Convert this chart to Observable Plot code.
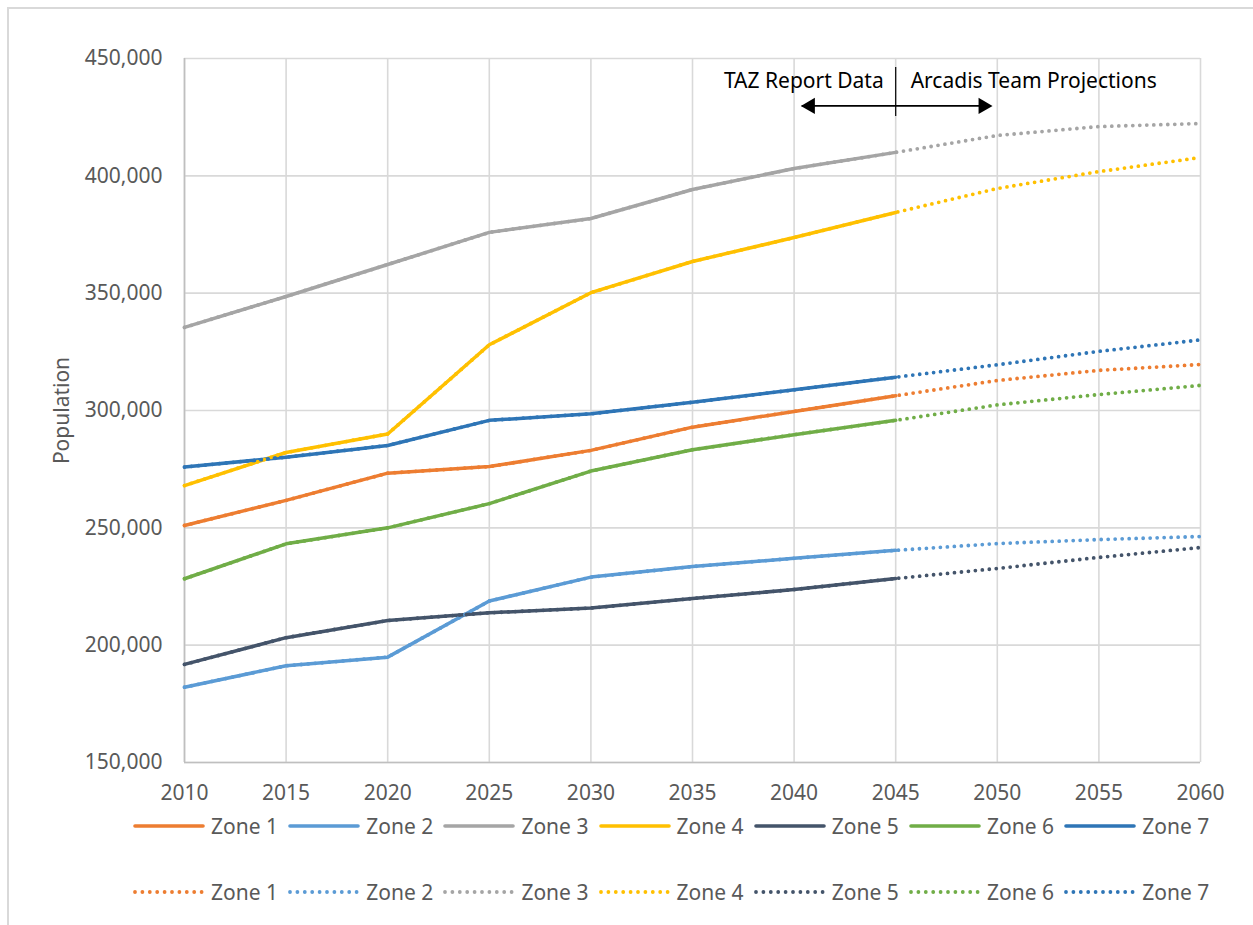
<!DOCTYPE html>
<html>
<head>
<meta charset="utf-8">
<script src="https://cdn.jsdelivr.net/npm/d3@7"></script>
<script src="https://cdn.jsdelivr.net/npm/@observablehq/plot@0.6"></script>
<style>
  html, body { margin: 0; padding: 0; background: #fff; }
  body { width: 1253px; height: 925px; position: relative; overflow: hidden; font-family: "Noto Sans", sans-serif; }
  #frame { position: absolute; left: 7px; top: 7px; width: 1260px; height: 930px; border-top: 2px solid #d9d9d9; border-left: 2px solid #d9d9d9; box-sizing: border-box; }
  #chart { position: absolute; left: 0; top: 0; }
  .legrow { position: absolute; left: 0; height: 30px; width: 1253px; }
  .item { position: absolute; top: 0; height: 30px; display: flex; align-items: center; color: #595959; font-size: 21px; white-space: nowrap; }
  .item svg { margin-right: 6px; }
</style>
</head>
<body>
<div id="frame"></div>
<div id="chart"></div>
<div id="legend"></div>
<script>
const years = [2010, 2015, 2020, 2025, 2030, 2035, 2040, 2045, 2050, 2055, 2060];
const lastReportYear = 2045;
const zones = ["Zone 1", "Zone 2", "Zone 3", "Zone 4", "Zone 5", "Zone 6", "Zone 7"];
const colors = ["#ED7D31", "#5B9BD5", "#A5A5A5", "#FFC000", "#44546A", "#70AD47", "#2E75B6"];

const zone1 = [251000, 261700, 273300, 276100, 283000, 292900, 299600, 306300, 312800, 317100, 319600];
const zone2 = [182100, 191200, 194900, 218800, 229000, 233500, 237000, 240400, 243300, 245000, 246300];
const zone3 = [335400, 348600, 362200, 375900, 381800, 394200, 403100, 410000, 417200, 421000, 422300];
const zone4 = [268000, 282100, 290000, 328000, 350200, 363500, 373700, 384400, 394600, 401800, 407800];
const zone5 = [191800, 203200, 210500, 213800, 215800, 219900, 223700, 228400, 232700, 237400, 241600];
const zone6 = [228300, 243200, 250000, 260300, 274200, 283300, 289700, 295800, 302400, 306800, 310700];
const zone7 = [275900, 280100, 285100, 295800, 298600, 303500, 308800, 314200, 319500, 325200, 330100];

const yTicks = [150000, 200000, 250000, 300000, 350000, 400000, 450000];

const labelLeft = "TAZ Report Data";
const labelRight = "Arcadis Team Projections";
const annoTextY = 440500;
const annoArrowY = 429800;
const annoArrowFrom = 2040.4;
const annoArrowTo = 2049.7;
const annoDividerTop = 446200;
const annoDividerBottom = 425300;

const series = [zone1, zone2, zone3, zone4, zone5, zone6, zone7];
const rows = [];
series.forEach((vals, i) => vals.forEach((v, j) => rows.push({zone: zones[i], year: years[j], value: v})));
const solidRows = rows.filter(d => d.year <= lastReportYear);
const dottedRows = rows;

const plot = Plot.plot({
  width: 1253,
  height: 830,
  marginLeft: 184,
  marginRight: 53,
  marginTop: 58,
  marginBottom: 68,
  style: {fontFamily: "Noto Sans, sans-serif", fontSize: "21px", color: "#595959", background: "transparent"},
  x: {domain: [2010, 2060]},
  y: {domain: [150000, 450000]},
  color: {domain: zones, range: colors},
  marks: [
    Plot.gridY(yTicks, {stroke: "#d9d9d9", strokeOpacity: 1, strokeWidth: 1.6}),
    Plot.gridX(years, {stroke: "#d9d9d9", strokeOpacity: 1, strokeWidth: 1.6}),
    Plot.ruleY([150000], {stroke: "#bfbfbf", strokeWidth: 1.6}),
    Plot.ruleX([2010], {y1: 150000, y2: 450000, stroke: "#bfbfbf", strokeWidth: 1.6}),
    Plot.axisY({ticks: yTicks, tickFormat: d3.format(","), tickSize: 0, tickPadding: 22, label: null}),
    Plot.axisX({ticks: years, tickFormat: "d", tickSize: 0, tickPadding: 23, label: null}),
    Plot.text(["Population"], {frameAnchor: "left", textAnchor: "middle", rotate: -90, dx: -122, fill: "#595959", fontSize: 21}),
    Plot.line(solidRows, {x: "year", y: "value", z: "zone", stroke: "zone", strokeWidth: 3.5, strokeLinejoin: "round", strokeLinecap: "round"}),
    Plot.line(dottedRows, {x: "year", y: "value", z: "zone", stroke: "zone", strokeWidth: 3.8, strokeDasharray: "0 7", strokeLinecap: "round", strokeLinejoin: "round"}),
    // annotation
    Plot.ruleX([lastReportYear], {y1: annoDividerTop, y2: annoDividerBottom, stroke: "black", strokeWidth: 1.2}),
    Plot.ruleY([annoArrowY], {x1: annoArrowFrom, x2: annoArrowTo, stroke: "black", strokeWidth: 1.6}),
    Plot.dot([annoArrowFrom], {x: d => d, y: annoArrowY, symbol: "triangle", r: 6, fill: "black", stroke: "none", rotate: -90, dx: 8}),
    Plot.dot([annoArrowTo], {x: d => d, y: annoArrowY, symbol: "triangle", r: 6, fill: "black", stroke: "none", rotate: 90, dx: -8}),
    Plot.text([labelLeft], {x: lastReportYear, y: annoTextY, text: d => d, textAnchor: "end", dx: -12, fill: "black", fontSize: 21}),
    Plot.text([labelRight], {x: lastReportYear, y: annoTextY, text: d => d, textAnchor: "start", dx: 15, fill: "black", fontSize: 21})
  ]
});
document.getElementById("chart").appendChild(plot);

// legend
const legend = document.getElementById("legend");
const rowsTop = [811, 877];
["solid", "dotted"].forEach((kind, r) => {
  const row = document.createElement("div");
  row.className = "legrow";
  row.style.top = rowsTop[r] + "px";
  zones.forEach((z, i) => {
    const item = document.createElement("div");
    item.className = "item";
    item.style.left = (133 + i * 155.2) + "px";
    const dash = kind === "dotted" ? `stroke-dasharray="0 7.4" stroke-linecap="round" stroke-width="3.8"` : `stroke-linecap="round" stroke-width="3.6"`;
    item.innerHTML = `<svg width="72" height="10"><line x1="2" x2="70" y1="5" y2="5" stroke="${colors[i]}" ${dash}/></svg><span>${z}</span>`;
    row.appendChild(item);
  });
  legend.appendChild(row);
});
</script>
</body>
</html>
